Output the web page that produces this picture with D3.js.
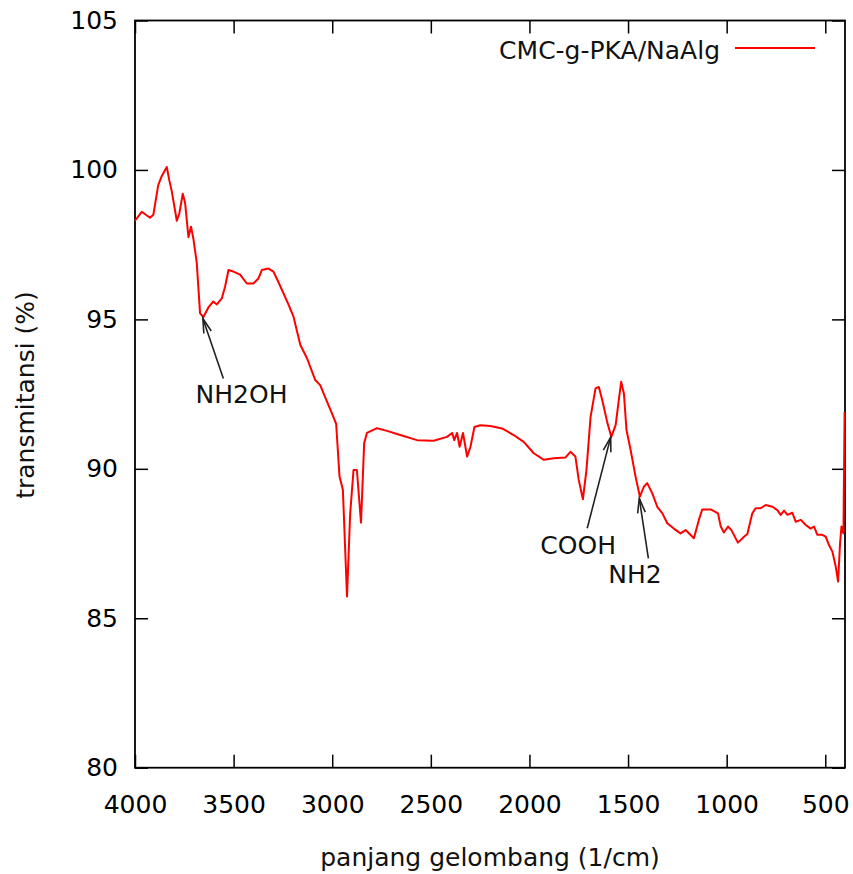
<!DOCTYPE html>
<html>
<head>
<meta charset="utf-8">
<script src="https://cdn.jsdelivr.net/npm/d3@7"></script>
<style>
  body { margin: 0; background: #fff; }
  text { font-family: "DejaVu Sans", Verdana, sans-serif; }
</style>
</head>
<body>
<div id="chart"></div>
<script>
// wavenumber (1/cm)
const wavenumbers = [4000, 3966, 3924, 3907, 3882, 3864, 3839, 3826, 3814, 3788, 3775, 3758, 3746, 3729, 3716, 3704, 3687, 3670, 3653, 3628, 3603, 3585, 3560, 3543, 3526, 3501, 3467, 3433, 3400, 3374, 3357, 3323, 3298, 3273, 3222, 3196, 3162, 3128, 3086, 3061, 3036, 3002, 2980, 2963, 2946, 2925, 2909, 2892, 2875, 2854, 2838, 2824, 2773, 2722, 2655, 2570, 2486, 2418, 2392, 2381, 2367, 2354, 2337, 2316, 2299, 2279, 2249, 2198, 2139, 2080, 2029, 1978, 1927, 1877, 1817, 1792, 1767, 1750, 1729, 1711, 1690, 1665, 1648, 1631, 1606, 1585, 1563, 1547, 1535, 1521, 1508, 1487, 1462, 1440, 1420, 1403, 1377, 1352, 1326, 1301, 1268, 1234, 1208, 1166, 1141, 1124, 1081, 1044, 1030, 1014, 993, 976, 943, 912, 895, 870, 853, 828, 802, 768, 743, 726, 709, 692, 667, 650, 624, 599, 574, 557, 540, 515, 498, 481, 464, 447, 435, 425, 418, 408, 402];

// transmittance (%) for CMC-g-PKA/NaAlg
const transmitansi = [98.3, 98.6, 98.4, 98.5, 99.5, 99.8, 100.1, 99.65, 99.3, 98.3, 98.55, 99.2, 98.9, 97.75, 98.1, 97.7, 96.9, 95.2, 95.08, 95.4, 95.6, 95.5, 95.7, 96.1, 96.65, 96.6, 96.5, 96.2, 96.2, 96.37, 96.65, 96.7, 96.6, 96.25, 95.5, 95.08, 94.15, 93.7, 92.97, 92.8, 92.4, 91.86, 91.5, 89.74, 89.3, 85.73, 88.5, 89.96, 89.96, 88.2, 90.86, 91.2, 91.36, 91.27, 91.13, 90.96, 90.94, 91.07, 91.2, 90.96, 91.2, 90.74, 91.2, 90.41, 90.74, 91.4, 91.46, 91.43, 91.35, 91.13, 90.9, 90.52, 90.3, 90.35, 90.38, 90.57, 90.41, 89.63, 88.98, 89.96, 91.74, 92.69, 92.74, 92.3, 91.57, 91.07, 91.46, 92.3, 92.91, 92.52, 91.3, 90.63, 89.74, 89.07, 89.4, 89.52, 89.18, 88.73, 88.51, 88.18, 88.0, 87.84, 87.95, 87.68, 88.29, 88.64, 88.64, 88.51, 88.07, 87.87, 88.07, 87.95, 87.53, 87.73, 87.82, 88.51, 88.68, 88.68, 88.79, 88.73, 88.62, 88.46, 88.6, 88.46, 88.53, 88.23, 88.29, 88.12, 88.0, 88.07, 87.79, 87.79, 87.73, 87.45, 87.23, 86.73, 86.23, 87.51, 88.07, 87.84, 91.9];

const xTicks = [4000, 3500, 3000, 2500, 2000, 1500, 1000, 500];
const yTicks = [80, 85, 90, 95, 100, 105];

// annotations: label, label position, arrow tail, arrow head (data units)
const labels = ["NH2OH", "COOH", "NH2"];
const labelPos = [[3460, 92.2], [1753, 87.15], [1465, 86.18]];
const arrowFrom = [[3552, 93.02], [1707, 88.01], [1397, 87.0]];
const arrowTo = [[3656, 95.03], [1588, 91.06], [1443, 89.01]];

const width = 853;
const height = 874;
const margin = { left: 135, right: 8, top: 20.5, bottom: 106.3 };

const svg = d3.select("#chart")
    .append("svg")
    .attr("width", width)
    .attr("height", height);

const x = d3.scaleLinear()
    .domain([4000, 400])
    .range([margin.left, width - margin.right]);

const y = d3.scaleLinear()
    .domain([80, 105])
    .range([height - margin.bottom, margin.top]);

const fontSize = 25;

// axes with inward ticks on all four sides
const axisBottomG = svg.append("g")
    .attr("transform", `translate(0, ${y(80)})`)
    .call(d3.axisBottom(x).tickValues(xTicks).tickFormat(d3.format("d"))
        .tickSizeInner(-13).tickSizeOuter(0).tickPadding(27.5));

const axisTopG = svg.append("g")
    .attr("transform", `translate(0, ${y(105)})`)
    .call(d3.axisTop(x).tickValues(xTicks).tickSizeInner(-13).tickSizeOuter(0).tickFormat(""));

const axisLeftG = svg.append("g")
    .attr("transform", `translate(${x(4000)}, 0)`)
    .call(d3.axisLeft(y).tickValues(yTicks).tickFormat(d3.format("d"))
        .tickSizeInner(-13).tickSizeOuter(0).tickPadding(17));

const axisRightG = svg.append("g")
    .attr("transform", `translate(${x(400)}, 0)`)
    .call(d3.axisRight(y).tickValues(yTicks).tickSizeInner(-13).tickSizeOuter(0).tickFormat(""));

[axisBottomG, axisTopG, axisLeftG, axisRightG].forEach((g) => {
    g.select(".domain").remove();
    g.selectAll(".tick line").attr("stroke", "#000").attr("stroke-width", 1.5);
    g.selectAll(".tick text")
        .attr("fill", "#000")
        .style("font-size", fontSize + "px")
        .style("font-family", "DejaVu Sans, Verdana, sans-serif");
});

// frame
svg.append("rect")
    .attr("x", x(4000))
    .attr("y", y(105))
    .attr("width", x(400) - x(4000))
    .attr("height", y(80) - y(105))
    .attr("fill", "none")
    .attr("stroke", "#000")
    .attr("stroke-width", 1.8);

// spectrum
const line = d3.line()
    .x((d) => x(d[0]))
    .y((d) => y(d[1]));

svg.append("path")
    .datum(wavenumbers.map((w, i) => [w, transmitansi[i]]))
    .attr("d", line)
    .attr("fill", "none")
    .attr("stroke", "#ff0000")
    .attr("stroke-width", 2)
    .attr("stroke-linejoin", "round");

// annotation arrows
const headLen = 15;
const headAngle = Math.PI / 12;
labels.forEach((lab, i) => {
    const x1 = x(arrowFrom[i][0]), y1 = y(arrowFrom[i][1]);
    const x2 = x(arrowTo[i][0]), y2 = y(arrowTo[i][1]);
    const ang = Math.atan2(y1 - y2, x1 - x2);
    const g = svg.append("g").attr("stroke", "#222").attr("stroke-width", 1.6).attr("fill", "none");
    g.append("line").attr("x1", x1).attr("y1", y1).attr("x2", x2).attr("y2", y2);
    g.append("path")
        .attr("d", `M${x2 + headLen * Math.cos(ang + headAngle)},${y2 + headLen * Math.sin(ang + headAngle)}` +
            `L${x2},${y2}` +
            `L${x2 + headLen * Math.cos(ang - headAngle)},${y2 + headLen * Math.sin(ang - headAngle)}`);

    svg.append("text")
        .attr("x", x(labelPos[i][0]))
        .attr("y", y(labelPos[i][1]))
        .attr("text-anchor", "middle")
        .attr("fill", "#111")
        .style("font-size", fontSize + "px")
        .text(lab);
});

// legend
svg.append("text")
    .attr("x", 720)
    .attr("y", 58.5)
    .attr("text-anchor", "end")
    .attr("fill", "#111")
    .style("font-size", fontSize + "px")
    .text("CMC-g-PKA/NaAlg");

svg.append("line")
    .attr("x1", 735)
    .attr("x2", 815)
    .attr("y1", 48)
    .attr("y2", 48)
    .attr("stroke", "#ff0000")
    .attr("stroke-width", 2);

// axis titles
svg.append("text")
    .attr("x", 490)
    .attr("y", 866)
    .attr("text-anchor", "middle")
    .attr("fill", "#111")
    .style("font-size", fontSize + "px")
    .text("panjang gelombang (1/cm)");

svg.append("text")
    .attr("transform", "translate(33.5, 395) rotate(-90)")
    .attr("text-anchor", "middle")
    .attr("fill", "#111")
    .style("font-size", fontSize + "px")
    .text("transmitansi (%)");
</script>
</body>
</html>
